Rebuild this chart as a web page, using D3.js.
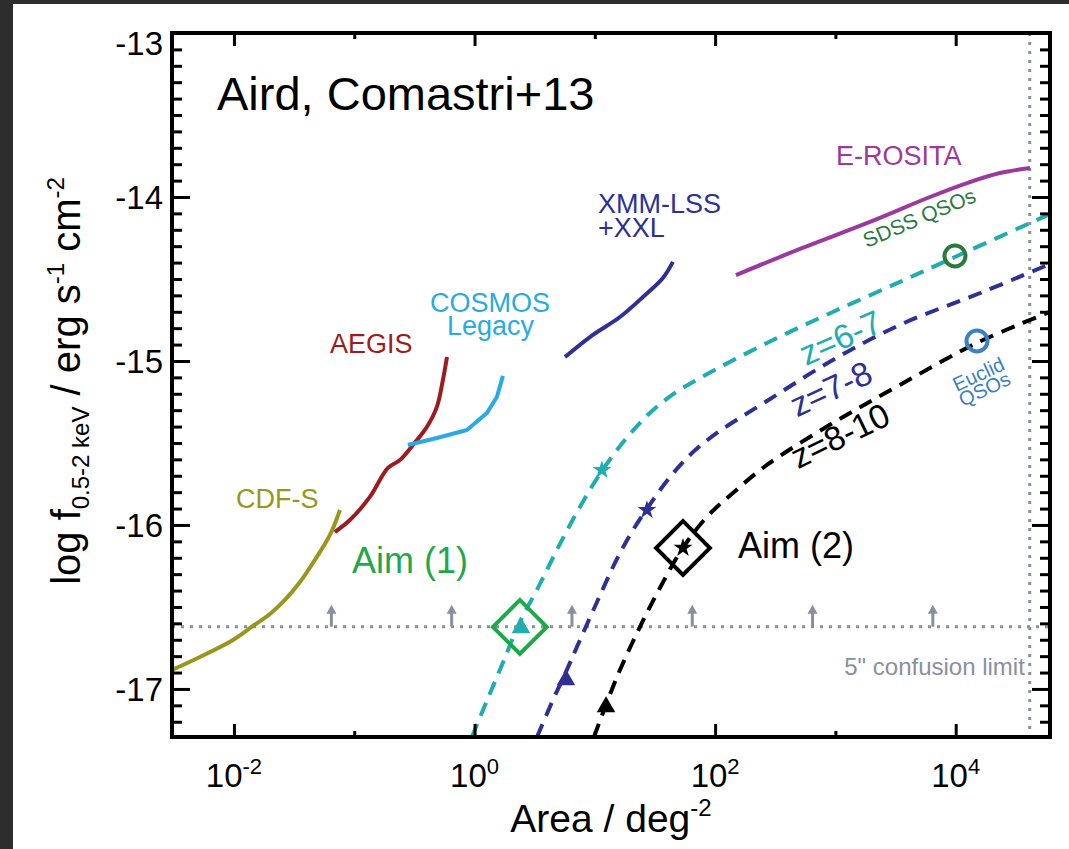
<!DOCTYPE html>
<html>
<head>
<meta charset="utf-8">
<script src="https://cdn.jsdelivr.net/npm/d3@7"></script>
<style>
  body { margin: 0; background: #fff; }
  svg { display: block; font-family: "Liberation Sans", Arial, Helvetica, sans-serif; }
</style>
</head>
<body>
<svg id="chart" width="1069" height="849"></svg>
<script>
// all points are [log10 area (deg^2), log f(0.5-2 keV)]
const cdfs = [[-2.515,-16.884],[-2.283,-16.805],[-2.008,-16.701],[-1.842,-16.616],[-1.701,-16.543],[-1.576,-16.457],[-1.451,-16.348],[-1.327,-16.213],[-1.202,-16.061],[-1.119,-15.909]];
const aegis = [[-1.161,-16.043],[-1.036,-15.970],[-0.870,-15.829],[-0.720,-15.652],[-0.620,-15.604],[-0.512,-15.512],[-0.396,-15.402],[-0.313,-15.280],[-0.263,-15.116],[-0.229,-14.976]];
const cosmos = [[-0.554,-15.512],[-0.313,-15.470],[-0.063,-15.421],[0.103,-15.317],[0.186,-15.220],[0.236,-15.091]];
const xmmxxl = [[0.752,-14.976],[0.984,-14.841],[1.209,-14.732],[1.400,-14.610],[1.566,-14.494],[1.649,-14.396]];
const erosita = [[2.173,-14.476],[2.705,-14.317],[3.287,-14.152],[3.786,-14.0],[4.094,-13.915],[4.368,-13.854],[4.618,-13.823]];

const z67 = [[-0.022,-17.293],[0.095,-17.085],[0.228,-16.854],[0.377,-16.591],[0.527,-16.384],[0.693,-16.140],[0.876,-15.890],[1.059,-15.671],[1.250,-15.482],[1.458,-15.317],[1.666,-15.195],[1.874,-15.104],[2.431,-14.890],[2.979,-14.701],[3.536,-14.518],[3.993,-14.366],[4.783,-14.104]];
const z78 = [[0.519,-17.293],[0.652,-17.067],[0.760,-16.896],[0.851,-16.744],[1.018,-16.470],[1.184,-16.207],[1.308,-16.043],[1.433,-15.902],[1.599,-15.732],[1.791,-15.573],[2.015,-15.439],[2.431,-15.244],[2.979,-14.994],[3.536,-14.780],[4.226,-14.579],[4.783,-14.409]];
const z810 = [[0.993,-17.293],[1.092,-17.098],[1.209,-16.884],[1.375,-16.622],[1.541,-16.384],[1.732,-16.140],[1.932,-15.951],[2.148,-15.805],[2.431,-15.634],[2.979,-15.378],[3.536,-15.146],[4.176,-14.890],[4.783,-14.701]];

const stars = [[1.059,-15.665],[1.433,-15.909],[1.733,-16.140]];
const triangles = [[0.386,-16.628],[0.760,-16.945],[1.093,-17.110]];
const aims = [[0.377,-16.622],[1.733,-16.140]];
const sdssQso = [3.994,-14.360];
const euclidQso = [4.177,-14.878];

const confusionLimit = -16.62;
const confusionArrows = [-1.19,-0.19,0.81,1.81,2.81,3.81];
const fullSky = 41253;

const yMajor = [-17,-16,-15,-14,-13];
const yMinor = d3.range(-17.2, -13.01, 0.1).filter(v => Math.abs(v - Math.round(v)) > 0.01);
const xMajor = [-2, 0, 2, 4];
const xMinor = [-1, 1, 3];

const W = 1069, H = 849;
const x = d3.scaleLog().domain([10 ** -2.515, 10 ** 4.784]).range([172, 1050]);
const y = d3.scaleLinear().domain([-17.293, -13]).range([737, 33]);
const px = d => x(10 ** d[0]);
const py = d => y(d[1]);

const svg = d3.select('#chart');
svg.append('rect').attr('width', W).attr('height', H).attr('fill', '#fff');
// dark screenshot edge
svg.append('rect').attr('width', W).attr('height', 4).attr('fill', '#2d2d2d');
svg.append('rect').attr('width', 13).attr('height', H).attr('fill', '#2d2d2d');

const [x0, x1] = x.range();
const [y0, y1] = y.range();

svg.append('clipPath').attr('id', 'plot')
  .append('rect').attr('x', x0).attr('y', y1).attr('width', x1 - x0).attr('height', y0 - y1);

const plot = svg.append('g').attr('clip-path', 'url(#plot)');
const grey = '#8a8fa0';

// confusion limit and full sky
plot.append('line')
  .attr('x1', x0).attr('x2', x1).attr('y1', y(confusionLimit)).attr('y2', y(confusionLimit))
  .attr('stroke', grey).attr('stroke-width', 3).attr('stroke-dasharray', '3,6');
plot.append('line')
  .attr('x1', x(fullSky)).attr('x2', x(fullSky)).attr('y1', y1).attr('y2', y0)
  .attr('stroke', grey).attr('stroke-width', 3).attr('stroke-dasharray', '3,6');

confusionArrows.forEach(a => {
  const ax = x(10 ** a), ay = y(confusionLimit);
  plot.append('line').attr('x1', ax).attr('x2', ax).attr('y1', ay).attr('y2', ay - 16)
    .attr('stroke', grey).attr('stroke-width', 3);
  plot.append('path').attr('d', `M${ax - 5},${ay - 13}L${ax},${ay - 22}L${ax + 5},${ay - 13}Z`)
    .attr('fill', grey);
});

const smooth = d3.line().x(px).y(py).curve(d3.curveCatmullRom);
const straight = d3.line().x(px).y(py);

const solid = [
  [cdfs, '#9a961c', smooth],
  [aegis, '#9b1d22', smooth],
  [cosmos, '#2aaae2', straight],
  [xmmxxl, '#2e3192', smooth],
  [erosita, '#9b3a9e', smooth]
];
solid.forEach(([d, c, gen]) => {
  plot.append('path').datum(d).attr('d', gen)
    .attr('fill', 'none').attr('stroke', c).attr('stroke-width', 4)
    .attr('stroke-linejoin', 'round');
});

const dashed = [
  [z67, '#1fadb0'],
  [z78, '#2e3192'],
  [z810, '#000']
];
dashed.forEach(([d, c]) => {
  plot.append('path').datum(d).attr('d', smooth)
    .attr('fill', 'none').attr('stroke', c).attr('stroke-width', 4)
    .attr('stroke-dasharray', '14,9');
});

const markColors = ['#1fadb0', '#2e3192', '#000'];

// aim diamonds
const diamond = d3.symbol(d3.symbolSquare, 1450);
plot.selectAll('.aim').data(aims).join('path')
  .attr('transform', d => `translate(${px(d)},${py(d)}) rotate(45)`)
  .attr('d', diamond)
  .attr('fill', 'none')
  .attr('stroke', (d, i) => i === 0 ? '#1fa84a' : '#000')
  .attr('stroke-width', 4);

plot.selectAll('.star').data(stars).join('path')
  .attr('transform', d => `translate(${px(d)},${py(d)})`)
  .attr('d', d3.symbol(d3.symbolStar, 110))
  .attr('fill', (d, i) => markColors[i]);

plot.selectAll('.tri').data(triangles).join('path')
  .attr('transform', d => `translate(${px(d)},${py(d)})`)
  .attr('d', d3.symbol(d3.symbolTriangle, 150))
  .attr('fill', (d, i) => markColors[i]);

[[sdssQso, '#2a7a3e'], [euclidQso, '#3b7fc4']].forEach(([d, c]) => {
  plot.append('circle').attr('cx', px(d)).attr('cy', py(d)).attr('r', 10.5)
    .attr('fill', 'none').attr('stroke', c).attr('stroke-width', 4);
});

// labels, anchored in data space
const label = (pos, txt, color, size, opts = {}) => {
  return svg.append('text')
    .attr('transform', `translate(${px(pos)},${py(pos)}) rotate(${opts.rot || 0})`)
    .attr('fill', color).attr('font-size', size)
    .attr('text-anchor', opts.anchor || 'start')
    .text(txt);
};
label([-2.141, -13.470], 'Aird, Comastri+13', '#000', 47);
label([3.004, -13.805], 'E-ROSITA', '#9b3a9e', 27);
label([1.026, -14.098], 'XMM-LSS', '#2e3192', 27);
label([1.026, -14.244], '+XXL', '#2e3192', 27);
label([-0.371, -14.701], 'COSMOS', '#2aaae2', 27);
label([-0.229, -14.841], 'Legacy', '#2aaae2', 27);
label([-1.202, -14.951], 'AEGIS', '#9b1d22', 27);
label([-1.983, -15.896], 'CDF-S', '#9a961c', 27);
label([-1.018, -16.293], 'Aim (1)', '#1fa84a', 36);
label([2.190, -16.201], 'Aim (2)', '#000', 36);
label([4.575, -16.915], '5" confusion limit', grey, 24, { anchor: 'end' });
label([3.261, -14.311], 'SDSS QSOs', '#2a7a3e', 21, { rot: -23 });
label([4.009, -15.189], 'Euclid', '#3b7fc4', 20, { rot: -25 });
label([4.059, -15.280], 'QSOs', '#3b7fc4', 20, { rot: -25 });
label([2.755, -15.030], 'z=6-7', '#1fadb0', 34, { rot: -24 });
label([2.680, -15.345], 'z=7-8', '#2e3192', 34, { rot: -25 });
label([2.690, -15.660], 'z=8-10', '#000', 34, { rot: -26 });

// axes: ticks point inward on all four sides
const axes = svg.append('g');
const tickStyle = g => {
  g.select('.domain').remove();
  g.selectAll('.tick line').attr('stroke', '#000').attr('stroke-width', 3);
  g.selectAll('.tick text').remove();
};
axes.append('g').attr('transform', `translate(${x0},0)`)
  .call(d3.axisLeft(y).tickValues(yMajor).tickSize(-18)).call(tickStyle);
axes.append('g').attr('transform', `translate(${x0},0)`)
  .call(d3.axisLeft(y).tickValues(yMinor).tickSize(-10)).call(tickStyle);
axes.append('g').attr('transform', `translate(${x1},0)`)
  .call(d3.axisRight(y).tickValues(yMajor).tickSize(-18)).call(tickStyle);
axes.append('g').attr('transform', `translate(${x1},0)`)
  .call(d3.axisRight(y).tickValues(yMinor).tickSize(-10)).call(tickStyle);
axes.append('g').attr('transform', `translate(0,${y0})`)
  .call(d3.axisBottom(x).tickValues(xMajor.map(e => 10 ** e)).tickSize(-13)).call(tickStyle);
axes.append('g').attr('transform', `translate(0,${y0})`)
  .call(d3.axisBottom(x).tickValues(xMinor.map(e => 10 ** e)).tickSize(-6)).call(tickStyle);
axes.append('g').attr('transform', `translate(0,${y1})`)
  .call(d3.axisTop(x).tickValues(xMajor.map(e => 10 ** e)).tickSize(-13)).call(tickStyle);
axes.append('g').attr('transform', `translate(0,${y1})`)
  .call(d3.axisTop(x).tickValues(xMinor.map(e => 10 ** e)).tickSize(-6)).call(tickStyle);

axes.append('rect')
  .attr('x', x0).attr('y', y1).attr('width', x1 - x0).attr('height', y0 - y1)
  .attr('fill', 'none').attr('stroke', '#000').attr('stroke-width', 4);

// tick labels (top one sits just under the frame line)
yMajor.forEach((v, i) => {
  svg.append('text')
    .attr('x', x0 - 9).attr('y', y(v)).attr('dy', i === yMajor.length - 1 ? '0.68em' : '0.36em')
    .attr('text-anchor', 'end').attr('font-size', 33).text(v);
});
xMajor.forEach(e => {
  const t = svg.append('text')
    .attr('x', x(10 ** e)).attr('y', 787).attr('text-anchor', 'middle').attr('font-size', 33);
  t.append('tspan').text('10');
  t.append('tspan').attr('font-size', 22).attr('dy', -13).text(e);
});

// axis titles
const xt = svg.append('text')
  .attr('x', (x0 + x1) / 2).attr('y', 832).attr('text-anchor', 'middle').attr('font-size', 39);
xt.append('tspan').text('Area / deg');
xt.append('tspan').attr('font-size', 24).attr('dy', -16).text('-2');

const yt = svg.append('text')
  .attr('transform', `translate(80,${(y0 + y1) / 2 - 4}) rotate(-90)`)
  .attr('text-anchor', 'middle').attr('font-size', 40);
yt.append('tspan').text('log f');
yt.append('tspan').attr('font-size', 24).attr('dy', 9).text('0.5-2 keV');
yt.append('tspan').attr('dy', -9).text(' / erg s');
yt.append('tspan').attr('font-size', 24).attr('dy', -16).text('-1');
yt.append('tspan').attr('dy', 16).text(' cm');
yt.append('tspan').attr('font-size', 24).attr('dy', -16).text('-2');
</script>
</body>
</html>
